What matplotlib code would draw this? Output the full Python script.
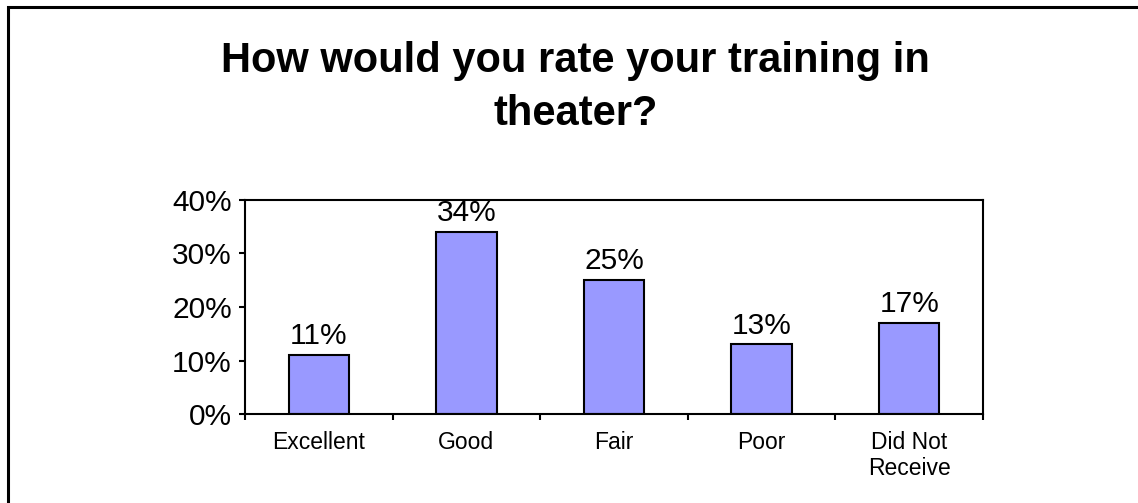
import numpy as np
import matplotlib.pyplot as plt
from matplotlib.patches import Rectangle
from matplotlib.ticker import FixedLocator, PercentFormatter

plt.rcParams['font.family'] = ['Liberation Sans', 'DejaVu Sans']

categories = ['Excellent', 'Good', 'Fair', 'Poor', 'Did Not\nReceive']
values = [11, 34, 25, 13, 17]
value_labels = ['11%', '34%', '25%', '13%', '17%']
title = 'How would you rate your training in\ntheater?'

fig = plt.figure(figsize=(11.38, 5.03), dpi=100)
ax = fig.add_axes([0.2153, 0.1769, 0.6485, 0.4255])

ind = np.arange(len(values))
rects = ax.bar(ind, values, 0.41, color='#9999FF', edgecolor='black', linewidth=1.5)

ax.set_xlim(-0.5, len(values) - 0.5)
ax.set_ylim(0, 40)
ax.set_yticks([0, 10, 20, 30, 40])
ax.yaxis.set_major_formatter(PercentFormatter(decimals=0))
ax.tick_params(axis='y', labelsize=21.5, length=4.5, width=1.5, pad=5, direction='out')

ax.set_xticks(ind)
ax.set_xticklabels(categories)
ax.tick_params(axis='x', which='major', length=0, labelsize=16.5, pad=12)
ax.xaxis.set_minor_locator(FixedLocator(np.arange(len(values) + 1) - 0.5))
ax.tick_params(axis='x', which='minor', length=4.5, width=1.5, direction='out')

for s in ax.spines.values():
    s.set_linewidth(1.5)

for rect, lab in zip(rects, value_labels):
    ax.annotate(lab, (rect.get_x() + rect.get_width() / 2, rect.get_height()),
                xytext=(0, 3.5), textcoords='offset points',
                ha='center', va='bottom', fontsize=21.5)

fig.text(0.506, 0.826, title, ha='center', va='center', fontsize=30,
         fontweight='bold', linespacing=1.4)

# outer frame (runs off right and bottom edge)
fig.patches.append(Rectangle((7.5 / 1138, -0.1), 2, 1 - 7.5 / 503 + 0.1,
                             transform=fig.transFigure, fill=False,
                             edgecolor='black', linewidth=2.2, clip_on=False))

fig.savefig('out.png', dpi=100)
